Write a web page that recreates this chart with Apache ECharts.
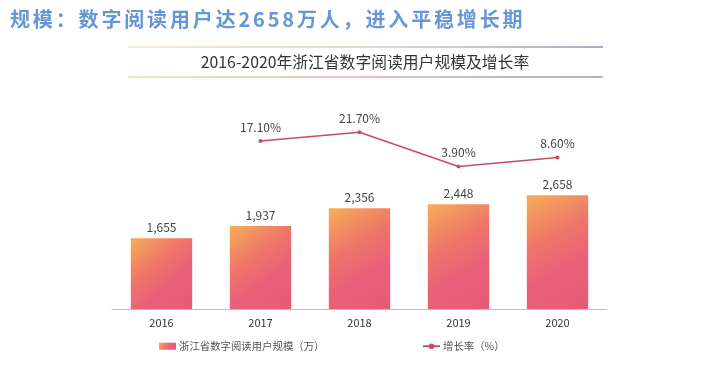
<!DOCTYPE html>
<html>
<head>
<meta charset="utf-8">
<script src="https://cdn.jsdelivr.net/npm/echarts@6/dist/echarts.min.js"></script>
<style>html,body{margin:0;padding:0;background:#fff;}#c{width:720px;height:378px;}</style>
</head>
<body>
<div id="c"></div>
<script>
const years = ['2016', '2017', '2018', '2019', '2020'];
const users = [1655, 1937, 2356, 2448, 2658];
const growth = [null, 17.1, 21.7, 3.9, 8.6];
const headline = '规模：数字阅读用户达2658万人，进入平稳增长期';
const subtitle = '2016-2020年浙江省数字阅读用户规模及增长率';
const barName = '浙江省数字阅读用户规模（万）';
const lineName = '增长率（%）';

const FONT = '"Noto Sans CJK SC", "Noto Sans", sans-serif';
const chart = echarts.init(document.getElementById('c'));

// headline laid out char by char to mimic wide letter spacing
const headEls = [];
let hx = 10;
for (const ch of headline) {
  headEls.push({
    type: 'text', x: hx, y: 19,
    style: { text: ch, fill: '#6696d6', font: 'bold 20px ' + FONT, textVerticalAlign: 'middle' }
  });
  hx += /[0-9]/.test(ch) ? 14.6 : 22.85;
}

const legendText = { color: '#555', fontSize: 10.4, fontFamily: FONT, padding: [0, 0, 0, -2] };

chart.setOption({
  animation: false,
  grid: { left: 112, right: 113, top: 95, bottom: 69 },
  xAxis: {
    type: 'category', data: years,
    axisLine: { lineStyle: { color: '#bdbdbd', width: 1 } },
    axisTick: { show: false },
    axisLabel: { color: '#333', fontSize: 11, fontFamily: FONT, margin: 8 }
  },
  yAxis: [
    { type: 'value', min: 0, max: 5000, show: false },
    { type: 'value', min: -70, max: 41, show: false }
  ],
  legend: [
    {
      left: 159, top: 341, padding: 0, itemWidth: 17, itemHeight: 7,
      textStyle: legendText, data: [{ name: barName, icon: 'rect' }]
    },
    {
      left: 422, top: 341, padding: 0, itemWidth: 17, itemHeight: 7,
      textStyle: legendText, data: [{ name: lineName }]
    }
  ],
  graphic: headEls.concat([
    {
      type: 'line', shape: { x1: 128, y1: 47, x2: 603, y2: 47 },
      style: {
        lineWidth: 1.5,
        stroke: new echarts.graphic.LinearGradient(0, 0, 1, 0, [
          { offset: 0, color: '#f2e6bf' }, { offset: 0.5, color: '#d8cfc0' }, { offset: 1, color: '#8797ab' }
        ])
      }
    },
    {
      type: 'line', shape: { x1: 128, y1: 77, x2: 603, y2: 77 },
      style: {
        lineWidth: 1.5,
        stroke: new echarts.graphic.LinearGradient(0, 0, 1, 0, [
          { offset: 0, color: '#efdca6' }, { offset: 0.5, color: '#e7a7b6' }, { offset: 1, color: '#8c9cb0' }
        ])
      }
    },
    {
      type: 'text', x: 365, y: 62,
      style: { text: subtitle, fill: '#333', font: '15.8px ' + FONT, textAlign: 'center', textVerticalAlign: 'middle' }
    }
  ]),
  series: [
    {
      name: barName, type: 'bar', data: users, barWidth: '62%',
      itemStyle: {
        color: new echarts.graphic.LinearGradient(0, 0, 1, 1, [
          { offset: 0, color: '#f7ad57' },
          { offset: 0.38, color: '#ee7569' },
          { offset: 0.65, color: '#e9607a' },
          { offset: 1, color: '#e85a76' }
        ])
      },
      label: {
        show: true, position: 'top', distance: 5, color: '#444', fontSize: 12, fontFamily: FONT,
        formatter: p => p.value.toLocaleString('en-US')
      }
    },
    {
      name: lineName, type: 'line', yAxisIndex: 1, data: growth,
      symbol: 'circle', symbolSize: 4,
      lineStyle: { color: '#c94a63', width: 1.5 },
      itemStyle: { color: '#c94a63' },
      label: {
        show: true, position: 'top', distance: 6, color: '#444', fontSize: 12, fontFamily: FONT,
        formatter: p => p.value.toFixed(2) + '%'
      }
    }
  ]
});
</script>
</body>
</html>
